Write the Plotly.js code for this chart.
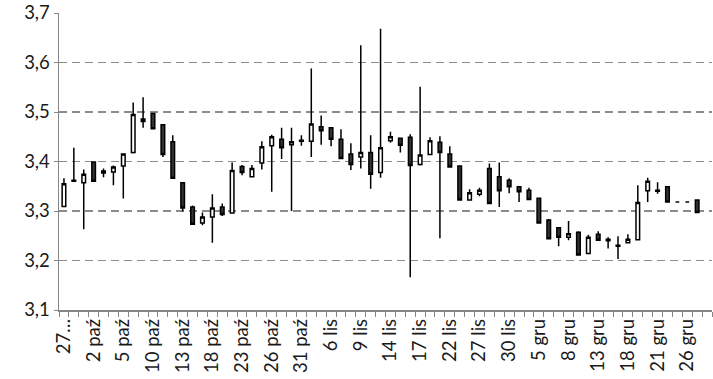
<!DOCTYPE html>
<html>
<head>
<meta charset="utf-8">
<script src="https://cdn.plot.ly/plotly-3.0.1.min.js"></script>
<style>
html,body{margin:0;padding:0;background:#fff;}
#chart{width:713px;height:379px;}
</style>
</head>
<body>
<div id="chart"></div>
<script>
const dates = ['27 wrz','28 wrz','1 paź','2 paź','3 paź','4 paź','5 paź','8 paź','9 paź','10 paź',
  '11 paź','12 paź','13 paź','16 paź','17 paź','18 paź','19 paź','22 paź','23 paź','24 paź',
  '25 paź','26 paź','29 paź','30 paź','31 paź','2 lis','5 lis','6 lis','7 lis','8 lis',
  '9 lis','12 lis','13 lis','14 lis','15 lis','16 lis','17 lis','20 lis','21 lis','22 lis',
  '23 lis','26 lis','27 lis','28 lis','29 lis','30 lis','3 gru','4 gru','5 gru','6 gru',
  '7 gru','8 gru','11 gru','12 gru','13 gru','14 gru','17 gru','18 gru','19 gru','20 gru',
  '21 gru','24 gru','25 gru','26 gru','27 gru','28 gru'];

const openVals = [3.309,3.362,3.357,3.399,3.381,3.379,3.391,3.418,3.486,3.497,
  3.474,3.440,3.357,3.308,3.276,3.288,3.308,3.296,3.390,3.369,
  3.397,3.432,3.445,3.434,3.441,3.441,3.470,3.468,3.445,3.415,
  3.409,3.418,3.378,3.442,3.447,3.449,3.394,3.414,3.439,3.415,
  3.391,3.322,3.334,3.386,3.369,3.362,3.349,3.342,3.326,3.282,
  3.266,3.247,3.257,3.214,3.253,3.243,3.231,3.236,3.242,3.341,
  3.342,3.349,3.318,3.318,3.322,null];

const highVals = [3.366,3.428,3.384,3.400,3.386,3.392,3.416,3.519,3.530,3.498,
  3.475,3.453,3.358,3.311,3.297,3.334,3.315,3.398,3.393,3.393,
  3.441,3.454,3.468,3.468,3.453,3.588,3.493,3.469,3.465,3.437,
  3.635,3.453,3.668,3.460,3.448,3.455,3.551,3.449,3.451,3.431,
  3.392,3.344,3.347,3.396,3.398,3.366,3.350,3.347,3.327,3.284,
  3.267,3.280,3.259,3.252,3.259,3.247,3.249,3.253,3.352,3.367,
  3.358,3.350,3.318,3.318,3.323,null];

const lowVals = [3.308,3.359,3.263,3.359,3.368,3.352,3.325,3.416,3.468,3.465,
  3.409,3.365,3.299,3.272,3.271,3.236,3.290,3.295,3.372,3.368,
  3.384,3.339,3.405,3.300,3.432,3.409,3.434,3.431,3.405,3.383,
  3.386,3.345,3.367,3.438,3.418,3.166,3.392,3.413,3.245,3.388,
  3.321,3.321,3.330,3.314,3.308,3.336,3.318,3.322,3.275,3.243,
  3.229,3.241,3.210,3.213,3.240,3.224,3.203,3.235,3.241,3.318,
  3.335,3.317,3.318,3.318,3.296,null];

const closeVals = [3.355,3.360,3.374,3.360,3.377,3.389,3.415,3.495,3.481,3.466,
  3.414,3.366,3.306,3.273,3.288,3.306,3.293,3.382,3.378,3.386,
  3.430,3.450,3.428,3.440,3.443,3.476,3.462,3.445,3.406,3.394,
  3.418,3.374,3.428,3.450,3.433,3.392,3.413,3.442,3.418,3.389,
  3.322,3.337,3.342,3.315,3.341,3.349,3.339,3.323,3.276,3.244,
  3.247,3.254,3.211,3.247,3.241,3.240,3.229,3.243,3.317,3.360,
  3.340,3.318,3.318,3.318,3.297,null];

// every third category is labelled; first label is truncated as in the original
const tickLabels = ['27…','2 paź','5 paź','10 paź','13 paź','18 paź','23 paź','26 paź','31 paź',
  '6 lis','9 lis','14 lis','17 lis','22 lis','27 lis','30 lis','5 gru','8 gru','13 gru',
  '18 gru','21 gru','26 gru'];
const labelStep = 3;

const idx = dates.map((d, i) => i);
const tickVals = tickLabels.map((t, k) => k * labelStep);

const trace = {
  type: 'candlestick',
  x: idx,
  open: openVals, high: highVals, low: lowVals, close: closeVals,
  text: dates,
  hoverinfo: 'text',
  whiskerwidth: 0,
  increasing: {line: {color: '#000000', width: 1.5}, fillcolor: '#ffffff'},
  decreasing: {line: {color: '#000000', width: 1.5}, fillcolor: '#333333'},
  showlegend: false
};

const axisGray = '#868686';
const layout = {
  width: 713, height: 379,
  margin: {l: 59, r: 1, t: 13, b: 69},
  paper_bgcolor: '#ffffff', plot_bgcolor: '#ffffff',
  separators: ', ',
  font: {family: 'Lato, "Open Sans", sans-serif', size: 18.5, color: '#1a1a1a'},
  boxgap: 0.48,
  showlegend: false,
  xaxis: {
    range: [-0.5, dates.length - 0.5],
    tickmode: 'array', tickvals: tickVals, ticktext: tickLabels,
    tickangle: -90, ticks: '',
    showline: true, linecolor: axisGray, linewidth: 1.5,
    showgrid: false, zeroline: false,
    rangeslider: {visible: false},
    minor: {tick0: -0.5, dtick: 1, ticks: 'outside', ticklen: 5, tickcolor: axisGray, tickwidth: 1, showgrid: false},
    fixedrange: true
  },
  yaxis: {
    range: [3.1, 3.7], tick0: 3.1, dtick: 0.1, tickformat: '.1f',
    showgrid: true, gridcolor: '#8c8c8c', gridwidth: 1.5, griddash: '8px,5px',
    showline: true, linecolor: axisGray, linewidth: 1.5,
    ticks: 'outside', ticklen: 4, tickcolor: axisGray, tickwidth: 1,
    zeroline: false, fixedrange: true
  }
};

Plotly.newPlot('chart', [trace], layout, {displayModeBar: false, staticPlot: true});
</script>
</body>
</html>
